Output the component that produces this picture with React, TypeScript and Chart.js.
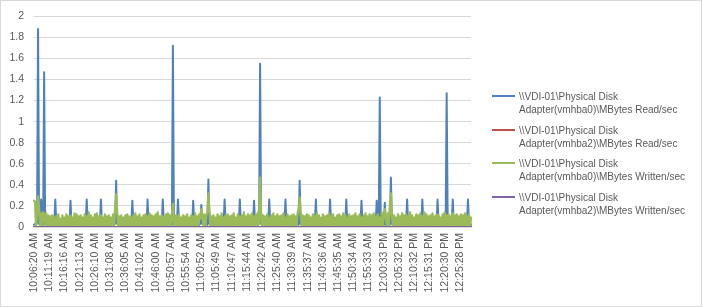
import React, { useEffect, useRef } from "react";
import { Chart, registerables } from "chart.js";

Chart.register(...registerables);

// One x-axis label every 15 samples (~20 s per sample)
const POINTS_PER_TICK = 15;

const tickLabels = [
  "10:06:20 AM", "10:11:19 AM", "10:16:16 AM", "10:21:13 AM", "10:26:10 AM",
  "10:31:08 AM", "10:36:05 AM", "10:41:02 AM", "10:46:00 AM", "10:50:57 AM",
  "10:55:54 AM", "11:00:52 AM", "11:05:49 AM", "11:10:47 AM", "11:15:44 AM",
  "11:20:42 AM", "11:25:40 AM", "11:30:39 AM", "11:35:37 AM", "11:40:36 AM",
  "11:45:35 AM", "11:50:34 AM", "11:55:33 AM", "12:00:33 PM", "12:05:32 PM",
  "12:10:32 PM", "12:15:31 PM", "12:20:30 PM", "12:25:28 PM",
];

const yTicks = [0, 0.2, 0.4, 0.6, 0.8, 1, 1.2, 1.4, 1.6, 1.8, 2];

const seriesNames = [
  "\\\\VDI-01\\Physical Disk\nAdapter(vmhba0)\\MBytes Read/sec",
  "\\\\VDI-01\\Physical Disk\nAdapter(vmhba2)\\MBytes Read/sec",
  "\\\\VDI-01\\Physical Disk\nAdapter(vmhba0)\\MBytes Written/sec",
  "\\\\VDI-01\\Physical Disk\nAdapter(vmhba2)\\MBytes Written/sec",
];

const seriesColors = ["#4F81BD", "#C0504D", "#9BBB59", "#8064A2"];

// \\VDI-01\Physical Disk Adapter(vmhba0)\MBytes Read/sec
const vmhba0Read = [
  0.02,0.03,0.02,0.04,1.88,0.03,0.02,0.26,0.03,0.02,1.47,0.03,0.02,0.04,0.02,
  0.03,0.02,0.04,0.02,0.03,0.02,0.26,0.03,0.02,0.04,0.02,0.03,0.02,0.03,0.02,
  0.04,0.02,0.03,0.02,0.03,0.02,0.25,0.02,0.04,0.02,0.03,0.02,0.03,0.04,0.02,
  0.03,0.02,0.04,0.02,0.03,0.02,0.03,0.26,0.02,0.03,0.02,0.04,0.02,0.03,0.02,
  0.02,0.03,0.02,0.04,0.02,0.03,0.26,0.02,0.03,0.02,0.04,0.02,0.03,0.02,0.03,
  0.02,0.04,0.02,0.03,0.02,0.03,0.44,0.03,0.02,0.04,0.02,0.03,0.02,0.03,0.02,
  0.03,0.02,0.04,0.02,0.03,0.02,0.03,0.25,0.02,0.03,0.02,0.04,0.02,0.03,0.02,
  0.02,0.03,0.02,0.04,0.02,0.03,0.02,0.26,0.03,0.02,0.04,0.02,0.03,0.02,0.03,
  0.02,0.04,0.02,0.03,0.02,0.03,0.02,0.26,0.02,0.03,0.02,0.04,0.02,0.03,0.02,
  0.03,0.02,1.72,0.02,0.03,0.02,0.04,0.26,0.02,0.03,0.02,0.03,0.04,0.02,0.03,
  0.02,0.03,0.02,0.04,0.02,0.03,0.02,0.25,0.03,0.02,0.04,0.02,0.03,0.02,0.03,
  0.21,0.03,0.02,0.04,0.02,0.03,0.02,0.45,0.03,0.02,0.04,0.02,0.03,0.02,0.03,
  0.02,0.04,0.02,0.03,0.02,0.03,0.02,0.04,0.26,0.02,0.03,0.02,0.04,0.02,0.03,
  0.02,0.03,0.02,0.04,0.02,0.03,0.02,0.03,0.26,0.02,0.04,0.02,0.03,0.02,0.03,
  0.02,0.04,0.02,0.03,0.02,0.03,0.02,0.25,0.03,0.02,0.04,0.02,0.03,1.55,0.03,
  0.02,0.03,0.02,0.04,0.02,0.03,0.02,0.26,0.03,0.02,0.04,0.02,0.03,0.02,0.03,
  0.02,0.04,0.02,0.03,0.02,0.03,0.02,0.03,0.26,0.02,0.04,0.02,0.03,0.02,0.03,
  0.02,0.03,0.02,0.04,0.02,0.03,0.02,0.44,0.03,0.02,0.04,0.02,0.03,0.02,0.03,
  0.02,0.04,0.02,0.03,0.02,0.03,0.02,0.03,0.26,0.02,0.04,0.02,0.03,0.02,0.03,
  0.02,0.03,0.02,0.04,0.02,0.03,0.02,0.26,0.03,0.02,0.04,0.02,0.03,0.02,0.03,
  0.02,0.04,0.02,0.03,0.02,0.03,0.02,0.03,0.26,0.02,0.04,0.02,0.03,0.02,0.03,
  0.02,0.03,0.02,0.04,0.02,0.03,0.02,0.03,0.25,0.02,0.04,0.02,0.03,0.02,0.03,
  0.02,0.04,0.02,0.03,0.02,0.03,0.02,0.03,0.25,0.02,0.04,1.23,0.03,0.02,0.03,
  0.02,0.23,0.02,0.04,0.02,0.03,0.02,0.47,0.03,0.02,0.04,0.02,0.03,0.02,0.03,
  0.02,0.04,0.02,0.03,0.02,0.03,0.02,0.03,0.26,0.02,0.04,0.02,0.03,0.02,0.03,
  0.02,0.03,0.02,0.04,0.02,0.03,0.02,0.03,0.26,0.02,0.04,0.02,0.03,0.02,0.03,
  0.02,0.04,0.02,0.03,0.02,0.03,0.02,0.03,0.26,0.02,0.04,0.02,0.03,0.02,0.03,
  0.02,0.03,1.27,0.04,0.02,0.03,0.02,0.03,0.26,0.02,0.04,0.02,0.03,0.02,0.03,
  0.02,0.04,0.02,0.03,0.02,0.03,0.02,0.03,0.26,0.02,0.04,0.02,
];

// \\VDI-01\Physical Disk Adapter(vmhba2)\MBytes Read/sec
const vmhba2Read = [
  0,0,0,0,0,0,0,0,0,0,0,0,0,0,0,
  0,0,0,0,0,0,0,0,0,0,0,0,0,0,0,
  0,0,0,0,0,0,0,0,0,0,0,0,0,0,0,
  0,0,0,0,0,0,0,0,0,0,0,0,0,0,0,
  0,0,0,0,0,0,0,0,0,0,0,0,0,0,0,
  0,0,0,0,0,0,0,0,0,0,0,0,0,0,0,
  0,0,0,0,0,0,0,0,0,0,0,0,0,0,0,
  0,0,0,0,0,0,0,0,0,0,0,0,0,0,0,
  0,0,0,0,0,0,0,0,0,0,0,0,0,0,0,
  0,0,0,0,0,0,0,0,0,0,0,0,0,0,0,
  0,0,0,0,0,0,0,0,0,0,0,0,0,0,0,
  0,0,0,0,0,0,0,0,0,0,0,0,0,0,0,
  0,0,0,0,0,0,0,0,0,0,0,0,0,0,0,
  0,0,0,0,0,0,0,0,0,0,0,0,0,0,0,
  0,0,0,0,0,0,0,0,0,0,0,0,0,0,0,
  0,0,0,0,0,0,0,0,0,0,0,0,0,0,0,
  0,0,0,0,0,0,0,0,0,0,0,0,0,0,0,
  0,0,0,0,0,0,0,0,0,0,0,0,0,0,0,
  0,0,0,0,0,0,0,0,0,0,0,0,0,0,0,
  0,0,0,0,0,0,0,0,0,0,0,0,0,0,0,
  0,0,0,0,0,0,0,0,0,0,0,0,0,0,0,
  0,0,0,0,0,0,0,0,0,0,0,0,0,0,0,
  0,0,0,0,0,0,0,0,0,0,0,0,0,0,0,
  0,0,0,0,0,0,0,0,0,0,0,0,0,0,0,
  0,0,0,0,0,0,0,0,0,0,0,0,0,0,0,
  0,0,0,0,0,0,0,0,0,0,0,0,0,0,0,
  0,0,0,0,0,0,0,0,0,0,0,0,0,0,0,
  0,0,0,0,0,0,0,0,0,0,0,0,0,0,0,
  0,0,0,0,0,0,0,0,0,0,0,0,
];

// \\VDI-01\Physical Disk Adapter(vmhba0)\MBytes Written/sec
const vmhba0Written = [
  0.25,0.24,0.00,0.12,0.29,0.18,0.00,0.13,0.01,0.14,0.12,0.02,0.13,0.01,0.11,
  0.01,0.10,0.00,0.11,0.00,0.09,0.00,0.10,0.01,0.12,0.00,0.08,0.00,0.11,0.01,
  0.09,0.00,0.12,0.01,0.10,0.00,0.11,0.00,0.09,0.02,0.13,0.01,0.12,0.00,0.10,
  0.00,0.11,0.01,0.09,0.00,0.12,0.00,0.10,0.02,0.14,0.01,0.11,0.00,0.09,0.00,
  0.12,0.01,0.13,0.00,0.10,0.00,0.11,0.02,0.09,0.01,0.12,0.00,0.10,0.00,0.11,
  0.01,0.09,0.02,0.12,0.00,0.18,0.31,0.15,0.01,0.10,0.00,0.11,0.00,0.09,0.01,
  0.11,0.00,0.12,0.00,0.10,0.01,0.09,0.00,0.11,0.02,0.13,0.01,0.10,0.00,0.12,
  0.00,0.09,0.01,0.11,0.00,0.12,0.02,0.10,0.01,0.13,0.00,0.11,0.00,0.10,0.01,
  0.12,0.00,0.14,0.00,0.10,0.01,0.11,0.02,0.09,0.00,0.12,0.00,0.13,0.01,0.11,
  0.02,0.12,0.22,0.00,0.11,0.00,0.10,0.01,0.12,0.02,0.09,0.00,0.11,0.00,0.10,
  0.01,0.12,0.00,0.09,0.00,0.11,0.01,0.10,0.00,0.13,0.02,0.10,0.01,0.12,0.08,
  0.17,0.10,0.01,0.12,0.00,0.11,0.14,0.32,0.16,0.00,0.10,0.00,0.11,0.01,0.09,
  0.00,0.12,0.00,0.10,0.02,0.13,0.01,0.09,0.00,0.11,0.00,0.12,0.01,0.10,0.00,
  0.11,0.00,0.13,0.01,0.09,0.00,0.12,0.02,0.10,0.01,0.11,0.00,0.14,0.00,0.10,
  0.01,0.12,0.00,0.11,0.00,0.13,0.01,0.10,0.02,0.12,0.00,0.14,0.03,0.47,0.12,
  0.01,0.11,0.00,0.10,0.00,0.12,0.01,0.09,0.00,0.11,0.02,0.13,0.01,0.10,0.00,
  0.12,0.00,0.10,0.01,0.11,0.00,0.13,0.02,0.09,0.01,0.12,0.00,0.10,0.00,0.11,
  0.01,0.12,0.00,0.10,0.02,0.13,0.18,0.28,0.12,0.01,0.11,0.00,0.10,0.00,0.12,
  0.00,0.11,0.00,0.09,0.01,0.12,0.00,0.10,0.02,0.13,0.01,0.11,0.00,0.09,0.00,
  0.12,0.01,0.10,0.00,0.11,0.02,0.13,0.01,0.10,0.00,0.12,0.00,0.09,0.01,0.11,
  0.00,0.12,0.00,0.10,0.01,0.13,0.00,0.11,0.02,0.09,0.01,0.12,0.00,0.10,0.00,
  0.11,0.01,0.13,0.00,0.10,0.00,0.12,0.01,0.09,0.00,0.11,0.02,0.13,0.01,0.10,
  0.00,0.12,0.00,0.11,0.01,0.13,0.00,0.10,0.02,0.12,0.01,0.09,0.00,0.14,0.00,
  0.12,0.17,0.08,0.01,0.13,0.02,0.20,0.32,0.10,0.00,0.11,0.00,0.09,0.01,0.12,
  0.00,0.10,0.00,0.13,0.01,0.11,0.00,0.12,0.02,0.10,0.01,0.14,0.00,0.11,0.00,
  0.09,0.01,0.12,0.00,0.11,0.00,0.13,0.01,0.10,0.02,0.14,0.00,0.12,0.00,0.10,
  0.01,0.11,0.00,0.13,0.02,0.10,0.01,0.12,0.00,0.11,0.00,0.09,0.01,0.12,0.00,
  0.14,0.00,0.11,0.01,0.12,0.00,0.10,0.02,0.13,0.01,0.11,0.00,0.12,0.00,0.10,
  0.01,0.12,0.00,0.11,0.00,0.13,0.01,0.10,0.02,0.12,0.00,0.09,
];

// \\VDI-01\Physical Disk Adapter(vmhba2)\MBytes Written/sec
const vmhba2Written = [
  0,0,0,0,0,0,0,0,0,0,0,0,0,0,0,
  0,0,0,0,0,0,0,0,0,0,0,0,0,0,0,
  0,0,0,0,0,0,0,0,0,0,0,0,0,0,0,
  0,0,0,0,0,0,0,0,0,0,0,0,0,0,0,
  0,0,0,0,0,0,0,0,0,0,0,0,0,0,0,
  0,0,0,0,0,0,0,0,0,0,0,0,0,0,0,
  0,0,0,0,0,0,0,0,0,0,0,0,0,0,0,
  0,0,0,0,0,0,0,0,0,0,0,0,0,0,0,
  0,0,0,0,0,0,0,0,0,0,0,0,0,0,0,
  0,0,0,0,0,0,0,0,0,0,0,0,0,0,0,
  0,0,0,0,0,0,0,0,0,0,0,0,0,0,0,
  0,0,0,0,0,0,0,0,0,0,0,0,0,0,0,
  0,0,0,0,0,0,0,0,0,0,0,0,0,0,0,
  0,0,0,0,0,0,0,0,0,0,0,0,0,0,0,
  0,0,0,0,0,0,0,0,0,0,0,0,0,0,0,
  0,0,0,0,0,0,0,0,0,0,0,0,0,0,0,
  0,0,0,0,0,0,0,0,0,0,0,0,0,0,0,
  0,0,0,0,0,0,0,0,0,0,0,0,0,0,0,
  0,0,0,0,0,0,0,0,0,0,0,0,0,0,0,
  0,0,0,0,0,0,0,0,0,0,0,0,0,0,0,
  0,0,0,0,0,0,0,0,0,0,0,0,0,0,0,
  0,0,0,0,0,0,0,0,0,0,0,0,0,0,0,
  0,0,0,0,0,0,0,0,0,0,0,0,0,0,0,
  0,0,0,0,0,0,0,0,0,0,0,0,0,0,0,
  0,0,0,0,0,0,0,0,0,0,0,0,0,0,0,
  0,0,0,0,0,0,0,0,0,0,0,0,0,0,0,
  0,0,0,0,0,0,0,0,0,0,0,0,0,0,0,
  0,0,0,0,0,0,0,0,0,0,0,0,0,0,0,
  0,0,0,0,0,0,0,0,0,0,0,0,
];

const FONT = "'Liberation Sans', Arial, sans-serif";
const TEXT = "#595959";
const GRID = "#D9D9D9";

const W = 702;
const H = 307;

export default function App() {
  const canvasRef = useRef<HTMLCanvasElement | null>(null);

  useEffect(() => {
    const canvas = canvasRef.current;
    if (!canvas) return;
    const labels = vmhba0Read.map((_, i) =>
      i % POINTS_PER_TICK === 0 ? tickLabels[i / POINTS_PER_TICK] ?? "" : ""
    );
    const seriesData = [vmhba0Read, vmhba2Read, vmhba0Written, vmhba2Written];
    const widths = [2, 2, 2.25, 2];
    const chart = new Chart(canvas, {
      type: "line",
      data: {
        labels,
        datasets: seriesData.map((d, k) => ({
          label: seriesNames[k].replace("\n", " "),
          data: d,
          borderColor: seriesColors[k],
          backgroundColor: seriesColors[k],
          borderWidth: widths[k],
          pointRadius: 0,
          tension: 0,
          fill: false,
          borderJoinStyle: "round" as const,
          borderCapStyle: "round" as const,
          order: 4 - k,
        })),
      },
      options: {
        responsive: false,
        animation: false,
        devicePixelRatio: 1,
        layout: { padding: { left: 0, right: 231, top: 14, bottom: 0 } },
        plugins: { legend: { display: false }, tooltip: { enabled: false } },
        scales: {
          x: {
            offset: false,
            grid: { display: false, drawTicks: false },
            border: { display: true, color: GRID, width: 1 },
            ticks: {
              autoSkip: false,
              maxRotation: 90,
              minRotation: 90,
              padding: 6,
              color: TEXT,
              font: { family: FONT, size: 10.5 },
            },
            afterFit: (s: any) => {
              s.height = 80;
            },
          },
          y: {
            min: 0,
            max: 2,
            afterBuildTicks: (s: any) => {
              s.ticks = yTicks.map((v) => ({ value: v }));
            },
            ticks: {
              padding: 10,
              color: TEXT,
              font: { family: FONT, size: 10.5 },
              callback: (v: any) => String(Math.round(Number(v) * 10) / 10),
            },
            grid: { color: GRID, drawTicks: false, lineWidth: 1 },
            border: { display: false },
            afterFit: (s: any) => {
              s.width = 34;
            },
          },
        },
      },
    });
    return () => chart.destroy();
  }, []);

  const legendTop = 90;
  const legendStep = 33.7;

  return (
    <div
      style={{
        position: "fixed",
        left: 0,
        top: 0,
        width: W,
        height: H,
        background: "#fff",
        overflow: "hidden",
      }}
    >
      <canvas
        ref={canvasRef}
        width={W}
        height={H}
        style={{ position: "absolute", left: 0, top: 0, width: W, height: H }}
      />
      {seriesNames.map((name, k) => (
        <div key={k}>
          <div
            style={{
              position: "absolute",
              left: 492,
              top: legendTop + k * legendStep + 5,
              width: 23,
              height: 2,
              background: seriesColors[k],
            }}
          />
          <div
            style={{
              position: "absolute",
              left: 519,
              top: legendTop + k * legendStep,
              fontFamily: FONT,
              fontSize: 10,
              lineHeight: "13px",
              color: TEXT,
              whiteSpace: "pre",
            }}
          >
            {name}
          </div>
        </div>
      ))}
      <div
        style={{
          position: "absolute",
          left: 0,
          top: 0,
          width: W,
          height: H,
          boxSizing: "border-box",
          border: `1px solid ${GRID}`,
          pointerEvents: "none",
        }}
      />
    </div>
  );
}
